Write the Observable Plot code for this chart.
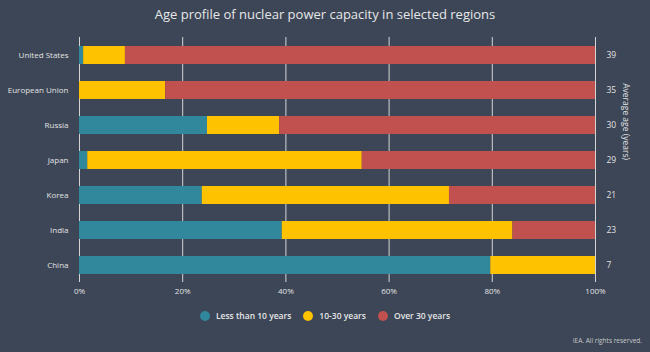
<!DOCTYPE html>
<html><head><meta charset="utf-8">
<script src="https://cdn.jsdelivr.net/npm/d3@7"></script>
<script src="https://cdn.jsdelivr.net/npm/@observablehq/plot@0.6"></script>
<style>
html,body{margin:0;padding:0;background:#3c4657;}
#wrap{position:relative;width:650px;height:352px;overflow:hidden;font-family:"Open Sans",sans-serif;}
#title{height:30px;line-height:29px;text-align:center;color:#e6e6e6;font-size:13px;}
#legend{position:absolute;left:0;top:309px;width:650px;text-align:center;font-size:8.5px;color:#e6e6e6;font-weight:600;}
#legend span.item{display:inline-block;margin:0 6px;vertical-align:middle;}
#legend span.dot{display:inline-block;width:10px;height:10px;border-radius:50%;vertical-align:middle;margin-right:6px;position:relative;top:-1px}
#caption{position:absolute;right:8px;top:336px;font-size:6.5px;color:#c8c8c8;}
</style>
</head><body>
<div id="wrap">
<div id="title">Age profile of nuclear power capacity in selected regions</div>
<div id="chart"></div>
<div id="legend"></div>
<div id="caption">IEA. All rights reserved.</div>
</div>
<script>
const regions = ["United States","European Union","Russia","Japan","Korea","India","China"];
const lessThan10 = [0.8, 0, 24.8, 1.6, 23.8, 39.3, 79.7];
const years10to30 = [8.1, 16.7, 14.0, 53.2, 47.9, 44.7, 20.3];
const over30 = [91.1, 83.3, 61.2, 45.2, 28.3, 16.0, 0];
const averageAge = [39, 35, 30, 29, 21, 23, 7];
const groups = ["Less than 10 years","10-30 years","Over 30 years"];
const colors = ["#31879b","#fec200","#c1514e"];
const xTicks = [0,20,40,60,80,100];

const series = [lessThan10, years10to30, over30];
const table = [];
regions.forEach((r,i)=>{
  groups.forEach((g,j)=>{ table.push({region:r, group:g, value:series[j][i]}); });
});
const ages = regions.map((r,i)=>({region:r, age:averageAge[i]}));

const chart = Plot.plot({
  width:650, height:272,
  marginTop:7, marginBottom:20, marginLeft:79, marginRight:55,
  style:{background:"transparent", color:"#e2e2e2", fontSize:"8px", fontFamily:"'Open Sans',sans-serif"},
  x:{domain:[0,100], ticks:xTicks, tickFormat:d=>d+"%", tickSize:0, tickPadding:6, label:null},
  y:{domain:regions, paddingInner:0.486, paddingOuter:0.23, tickSize:0, tickPadding:11, label:null},
  color:{domain:groups, range:colors},
  marks:[
    Plot.ruleX(xTicks, {stroke:"#d4d4d4", strokeWidth:1}),
    Plot.barX(table, Plot.stackX({x:"value", y:"region", fill:"group", order:groups})),
    Plot.text(ages, {y:"region", text:d=>String(d.age), frameAnchor:"right", textAnchor:"start", dx:11, fill:"#e2e2e2", fontSize:8.5}),
    Plot.text(["Average age (years)"], {frameAnchor:"right", rotate:90, dx:30, fill:"#e2e2e2", fontSize:8.5})
  ]
});
document.getElementById("chart").appendChild(chart);

const lg = document.getElementById("legend");
groups.forEach((g,i)=>{
  const s = document.createElement("span"); s.className="item";
  const d = document.createElement("span"); d.className="dot"; d.style.background=colors[i];
  s.appendChild(d); s.appendChild(document.createTextNode(g));
  lg.appendChild(s);
});
</script>
</body></html>
